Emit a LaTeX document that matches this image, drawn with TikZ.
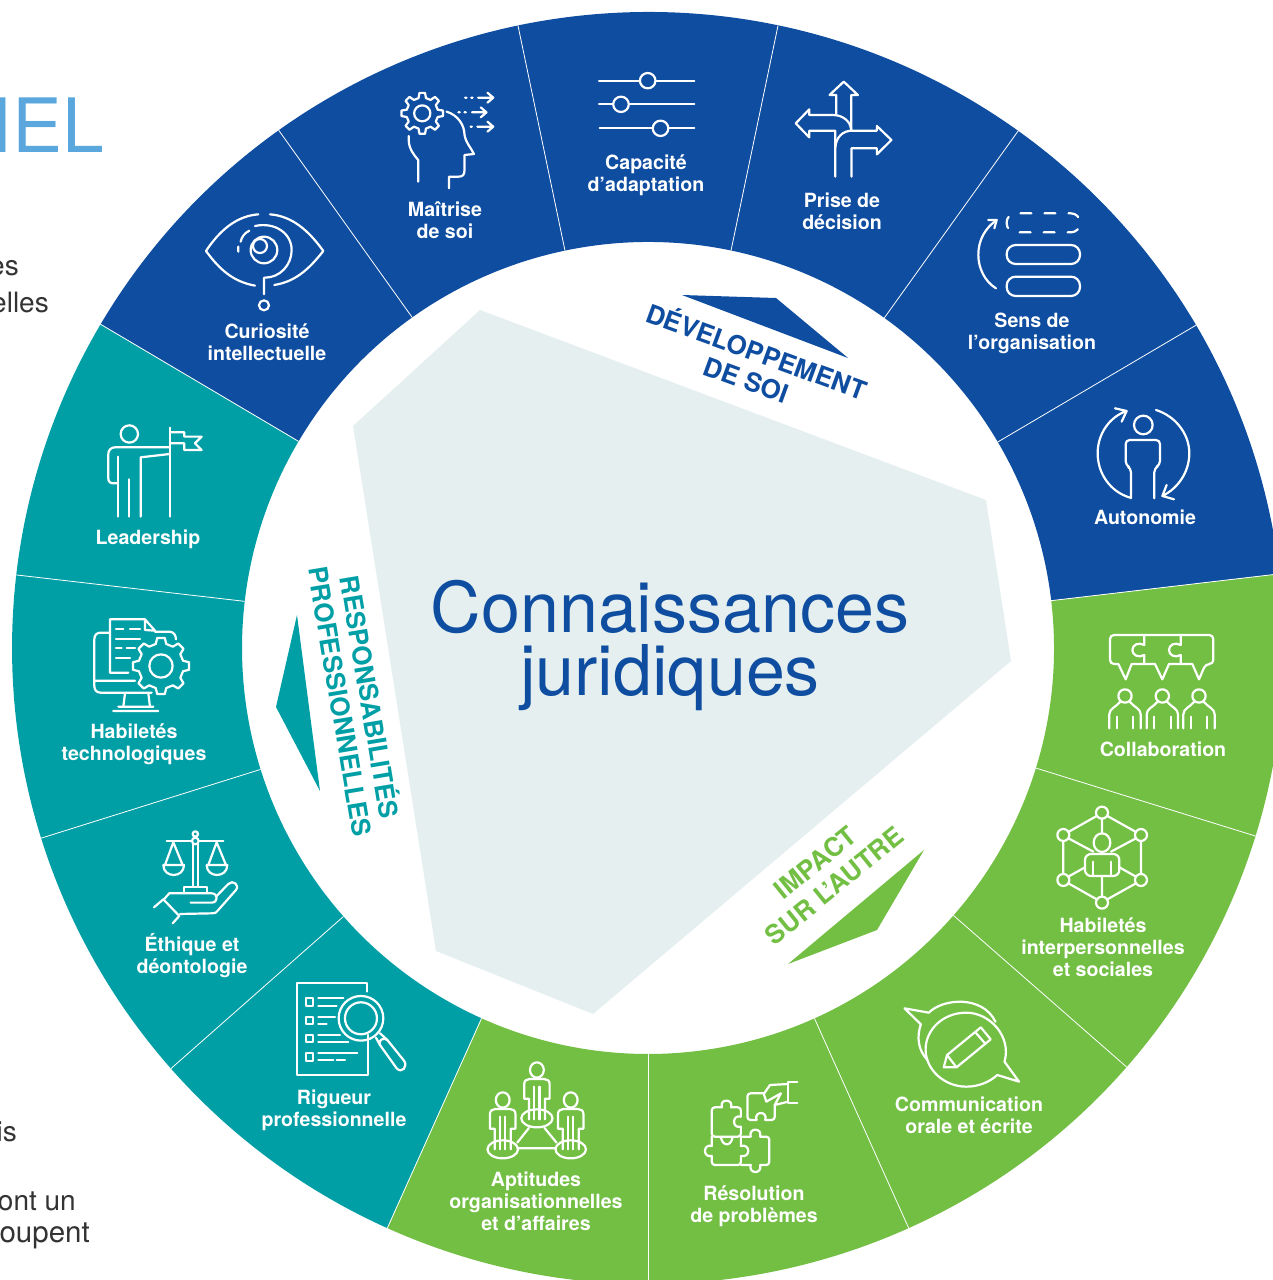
\documentclass[tikz,border=0pt]{standalone}
\usepackage{fontspec}
\setmainfont{TeX Gyre Heros}
\definecolor{cblue}{HTML}{0E4DA0}
\definecolor{cteal}{HTML}{009FA6}
\definecolor{cgreen}{HTML}{72BF44}
\definecolor{cpoly}{HTML}{E5EFEF}
\definecolor{ctitle}{HTML}{5AA7DE}
\definecolor{cgrey}{HTML}{333333}
\tikzset{
 ico/.style={draw=white,line width=2.2pt,line cap=round,line join=round},
 lab/.style={text=white,font=\bfseries\fontsize{19.6}{22}\selectfont,align=center,inner sep=0pt},
 head/.style={font=\bfseries\fontsize{26}{30}\selectfont,align=center,inner sep=0pt},
 side/.style={text=cgrey,font=\fontsize{28}{30}\selectfont,inner sep=0pt,anchor=east},
 zA/.style={shift={(380,60)},x=0.338pt,y=-0.3333pt},
 zB/.style={shift={(950,200)},x=0.3333pt,y=-0.3333pt},
 zC/.style={shift={(1030,620)},x=0.3333pt,y=-0.3333pt},
 zD/.style={shift={(470,990)},x=0.3636pt,y=-0.3333pt},
 zE/.style={shift={(80,610)},x=0.3333pt,y=-0.3333pt},
 zF/.style={shift={(90,200)},x=0.3333pt,y=-0.3333pt},
}
\newcommand\cogwheel[6]{%
 \begin{scope}[shift={(#1,#2)}]
 \pgfmathsetmacro{\st}{360/#5}
 \draw[ico,#6] ({0.7*\st}:#3) \foreach \i [evaluate=\i as \a using \i*\st] in {1,...,#5} {
   -- ({\a-0.30*\st}:#3) -- ({\a-0.17*\st}:#4) -- ({\a+0.17*\st}:#4) -- ({\a+0.30*\st}:#3)
 } -- cycle;
 \end{scope}}
\newcommand\wedgepart[3]{%
 \fill[#3] (#1:406) -- (#1:636) arc[start angle=#1,end angle=#2,radius=636] -- (#2:406) arc[start angle=#2,end angle=#1,radius=406] -- cycle;}
\newcommand\teammate[2]{%
 \begin{scope}[shift={(#1,0)}]
 \draw[ico] (0,#2) circle[radius=20];
 \draw[ico] (-47,#2+97) -- (-47,#2+55) .. controls (-47,#2+38) and (-28,#2+34) .. (-14,#2+17);
 \draw[ico] (47,#2+97) -- (47,#2+55) .. controls (47,#2+38) and (28,#2+34) .. (14,#2+17);
 \draw[ico] (-25,#2+62) -- (-25,#2+97) (25,#2+62) -- (25,#2+97);
 \end{scope}}
\newcommand\standing[2]{%
 \begin{scope}[shift={(#1,0)}]
 \draw[ico] (0,#2) ellipse[x radius=19,y radius=23];
 \draw[ico] (-22,#2+148) -- (-22,#2+86) -- (-35,#2+86) -- (-35,#2+42) .. controls (-35,#2+32) and (-28,#2+27) .. (-20,#2+27) -- (20,#2+27) .. controls (28,#2+27) and (35,#2+32) .. (35,#2+42) -- (35,#2+86) -- (22,#2+86) -- (22,#2+148);
 \draw[ico] (-7,#2+50) -- (-7,#2+148) (7,#2+50) -- (7,#2+148);
 \end{scope}}
\begin{document}
\begin{tikzpicture}[x=1pt,y=-1pt]
\path[use as bounding box] (0,0) rectangle (1273,1280);
\clip (0,0) rectangle (1273,1280);
% side text
\node[font=\fontsize{75}{78}\selectfont,text=ctitle,inner sep=0pt,anchor=east] (ttl) at (104,125) {NEL};
\node[side] (s1) at (19,268) {es};
\node[side] (s2) at (49,302) {elles};
\node[side] (s3) at (17,1132) {is};
\node[side] (s4) at (76,1201) {ont un};
\node[side,font=\fontsize{29.5}{30}\selectfont] (s5) at (90,1236) {oupent};
% ring
\begin{scope}[shift={(648,648)},x=1pt,y=1pt]
\wedgepart{6.7}{149.4}{cblue}
\wedgepart{149.4}{245.8}{cteal}
\wedgepart{245.8}{366.7}{cgreen}
\foreach \a in {6.7,30.5,54.4,78.2,101.8,125.5,149.4,173.4,197.4,221.4,245.8,270,294.2,318.8,342.8}
  \draw[white,line width=0.8pt] (\a:406) -- (\a:636);
\end{scope}
% central polygon
\fill[cpoly] (480,310) -- (986,500) -- (1011,661) -- (593,1014) -- (436,951) -- (353,426) -- cycle;
\node[text=cblue,font=\fontsize{70}{63}\selectfont,align=center,inner sep=0pt] (main) at (670,645) {Connaissances\\juridiques};
% triangles
\fill[cblue] (682,295) -- (776,298) -- (848,358) -- cycle;
\fill[cgreen] (924,850) -- (877,930) -- (788,964) -- cycle;
\fill[cteal] (297,615) -- (276,707) -- (320,791) -- cycle;
\node[head,text=cblue,rotate=-20] (hA) at (752,364) {DÉVELOPPEMENT\\DE SOI};
\node[head,text=cgreen,rotate=39] (hB) at (825,874) {IMPACT\\SUR L’AUTRE};
\node[head,text=cteal,rotate=-80.5] (hC) at (357,699) {RESPONSABILITÉS\\PROFESSIONNELLES};
% labels
\node[lab] (l1) at (1145,517) {Autonomie};
\node[lab] (l2) at (1032,333) {Sens de\\l’organisation};
\node[lab] (l3) at (842,211) {Prise de\\décision};
\node[lab] (l4) at (646,175) {Capacité\\d’adaptation};
\node[lab] (l5) at (445,220) {Maîtrise\\de soi};
\node[lab] (l6) at (267,342) {Curiosité\\intellectuelle};
\node[lab] (l7) at (148,539) {Leadership};
\node[lab] (l8) at (134,744) {Habiletés\\technologiques};
\node[lab] (l9) at (192,956) {Éthique et\\déontologie};
\node[lab] (l10) at (334,1110) {Rigueur\\professionnelle};
\node[lab] (l11) at (536,1201) {Aptitudes\\organisationnelles\\et d’affaires};
\node[lab] (l12) at (754,1206) {Résolution\\de problèmes};
\node[lab] (l13) at (969,1115) {Communication\\orale et écrite};
\node[lab] (l14) at (1103,947) {Habiletés\\interpersonnelles\\et sociales};
\node[lab] (l15) at (1163,749) {Collaboration};
% icons A: Maitrise, Capacite, Prise
\begin{scope}[zA]
\cogwheel{125}{160}{47}{62}{8}{}
\draw[ico] (125,160) circle[radius=24];
\draw[ico] (197,155) .. controls (230,165) and (250,195) .. (250,225) .. controls (252,245) and (270,265) .. (278,282) -- (250,285) -- (250,330) .. controls (250,345) and (245,350) .. (232,350) -- (204,350) -- (204,385);
\draw[ico] (85,228) -- (85,240) .. controls (85,265) and (100,285) .. (113,300) -- (113,365);
\draw[ico] (252,113) -- (256,113) (270,113) -- (274,113) (290,113) -- (335,113) (318,98) -- (335,113) -- (318,128);
\draw[ico] (232,157) -- (236,157) (250,157) -- (254,157) (272,157) -- (315,157) (298,142) -- (315,157) -- (298,172);
\draw[ico] (268,200) -- (272,200) (288,200) -- (335,200) (318,185) -- (335,200) -- (318,215);
% sliders
\draw[ico] (648,62) -- (930,62) (648,133) -- (930,133) (650,205) -- (930,205);
\draw[ico,fill=cblue] (792,62) circle[radius=23];
\draw[ico,fill=cblue] (713,133) circle[radius=23];
\draw[ico,fill=cblue] (830,205) circle[radius=23];
% crossroads
\draw[ico] (1350,165) -- (1350,105) -- (1330,105) -- (1372,65) -- (1414,105) -- (1394,105) -- (1394,210);
\draw[ico] (1394,212) .. controls (1394,185) and (1370,165) .. (1340,165) -- (1270,165) -- (1270,148) -- (1230,190) -- (1270,232) -- (1270,212) -- (1347,212) -- (1347,350);
\draw[ico] (1347,262) .. controls (1350,230) and (1370,212) .. (1397,212) -- (1470,212) -- (1470,198) -- (1513,240) -- (1470,283) -- (1470,265) -- (1395,265) -- (1395,350);
\end{scope}
% icons B
\begin{scope}[zB]
\draw[ico,rounded corners=9pt,dash pattern=on 11pt off 13pt,dash phase=5pt] (170,40) rectangle (390,97);
\draw[ico,rounded corners=9pt] (170,135) rectangle (390,192);
\draw[ico,rounded corners=9pt] (170,230) rectangle (390,288);
\draw[ico] (138,265) .. controls (105,245) and (85,205) .. (85,165) .. controls (85,120) and (105,85) .. (140,60);
\draw[ico] (115,60) -- (140,60) -- (133,85);
\draw[ico] (580,675) circle[radius=28];
\draw[ico,rounded corners=4pt] (543,895) -- (543,805) -- (527,795) -- (527,720) -- (630,720) -- (630,795) -- (613,805) -- (613,895);
\draw[ico] (540,893) .. controls (480,875) and (443,820) .. (443,760) .. controls (443,700) and (480,650) .. (530,633) (495,625) -- (530,633) -- (515,665);
\draw[ico] (618,630) .. controls (675,648) and (718,700) .. (718,760) .. controls (718,815) and (685,865) .. (637,888) (650,855) -- (637,888) -- (672,898);
\end{scope}
% icons C
\begin{scope}[zC]
\draw[ico,rounded corners=4pt] (240,45) -- (550,45) -- (550,132) -- (527,132) [sharp corners] -- (507,178) -- (487,132) -- (417,132) -- (397,178) -- (375,132) -- (305,132) -- (287,178) -- (265,132) [rounded corners=4pt] -- (240,132) -- cycle;
\draw[ico] (343,45) -- (343,75) .. controls (325,65) and (307,75) .. (307,90) .. controls (307,105) and (325,115) .. (343,105) -- (343,132);
\draw[ico] (452,45) -- (452,75) .. controls (434,65) and (417,75) .. (417,90) .. controls (417,105) and (434,115) .. (452,105) -- (452,132);
\teammate{285}{228}\teammate{397}{228}\teammate{507}{228}
\draw[ico] (216,596) -- (216,640) (115,655) -- (190,695) (318,655) -- (243,695) (115,770) -- (165,742) (318,770) -- (268,742) (216,768) -- (216,830);
\draw[ico] (232,588) -- (318,636) (333,663) -- (333,762) (318,790) -- (232,838) (200,838) -- (115,790) (100,762) -- (100,663) (115,636) -- (200,588);
\foreach \p in {(216,578),(100,645),(333,645),(100,780),(333,780),(216,848)}
  \draw[ico] \p circle[radius=18];
\draw[ico] (216,668) ellipse[x radius=25,y radius=28];
\draw[ico,rounded corners=6pt] (165,768) -- (165,702) -- (268,702) -- (268,768) -- cycle;
\draw[ico] (190,725) -- (190,768) (243,725) -- (243,768);
\end{scope}
% icons D
\begin{scope}[zD]
\standing{184}{240}
\standing{90}{330}
\standing{277}{330}
\draw[ico] (184,385) ellipse[x radius=43,y radius=27];
\draw[ico] (90,478) ellipse[x radius=42,y radius=27];
\draw[ico] (277,478) ellipse[x radius=42,y radius=27];
\draw[ico] (162,414) -- (130,458) (205,414) -- (238,458) (132,475) -- (235,475);
% puzzle
\draw[ico,rounded corners=3pt] (693,352) -- (665,352) -- (665,440) -- (745,440) -- (745,410) (745,380) -- (745,352) -- (718,352);
\draw[ico] (693,352) .. controls (685,325) and (725,325) .. (718,352);
\draw[ico] (745,380) .. controls (720,372) and (720,418) .. (745,410);
\draw[ico,rounded corners=3pt] (665,498) -- (665,525) -- (745,525) -- (745,498) (745,468) -- (745,440);
\draw[ico] (665,440) -- (665,468) .. controls (640,460) and (640,505) .. (665,498);
\draw[ico] (690,442) .. controls (695,470) and (718,470) .. (722,442);
\draw[ico] (745,468) .. controls (772,460) and (772,505) .. (745,498);
\draw[ico,rounded corners=3pt] (745,440) -- (772,440) (798,440) -- (823,440) -- (823,525) -- (798,525) (772,525) -- (745,525);
\draw[ico] (772,440) .. controls (765,412) and (805,412) .. (798,440);
\draw[ico] (772,525) .. controls (765,553) and (805,553) .. (798,525);
\draw[ico,rounded corners=3pt] (808,310) -- (763,310) -- (763,390) -- (788,390) (812,390) -- (838,390) -- (838,345);
\draw[ico] (788,390) .. controls (780,362) and (820,362) .. (812,390);
\draw[ico] (900,277) -- (875,277) -- (875,340) -- (900,340);
\draw[ico] (875,282) -- (825,285) -- (808,312) -- (815,335) -- (855,310) -- (838,345) -- (875,335);
% communication
\draw[ico] (1240,103) -- (1195,55) -- (1262,68) .. controls (1300,25) and (1410,15) .. (1445,95);
\draw[ico] (1240,103) .. controls (1228,140) and (1232,180) .. (1258,210);
\draw[ico] (1470,215) .. controls (1490,140) and (1430,68) .. (1365,68) .. controls (1300,68) and (1253,120) .. (1253,178) .. controls (1253,240) and (1305,290) .. (1365,290) .. controls (1400,290) and (1430,275) .. (1450,255) -- (1510,275) -- cycle;
\draw[ico] (1303,232) -- (1312,195) -- (1405,112) -- (1432,148) -- (1338,232) -- cycle (1390,127) -- (1418,162) (1312,195) -- (1338,232);
\end{scope}
% icons E
\begin{scope}[zE]
\draw[ico] (90,68) -- (62,68) .. controls (50,68) and (43,75) .. (43,88) -- (43,228) .. controls (43,240) and (50,248) .. (62,248) -- (215,248);
\draw[ico] (45,212) -- (165,212) (225,65) -- (268,65) .. controls (280,65) and (288,75) .. (288,88);
\draw[ico] (135,250) -- (130,290) (205,250) -- (210,290) (115,290) -- (220,290) (100,303) -- (235,303);
\draw[ico] (145,188) -- (90,188) -- (90,28) -- (195,28) -- (225,62) -- (195,60) -- (195,28);
\draw[ico] (108,58) -- (130,58) (150,58) -- (180,58) (108,88) -- (180,88) (108,115) -- (125,115) (140,115) -- (165,115) (108,143) -- (150,143);
\cogwheel{243}{168}{68}{85}{8}{fill=cteal}
\draw[ico] (243,168) circle[radius=35];
% scale
\draw[ico] (260,693) -- (430,693) (338,703) -- (338,830) (355,703) -- (355,830) (312,845) -- (312,830) -- (380,830) -- (380,845);
\draw[ico,fill=cteal] (346,693) circle[radius=10];
\draw[ico] (346,672) circle[radius=8];
\draw[ico] (280,697) -- (255,765) (280,697) -- (308,765) (250,765) -- (312,765) .. controls (312,805) and (250,805) .. (250,765);
\draw[ico] (410,697) -- (385,765) (410,697) -- (438,765) (380,765) -- (442,765) .. controls (442,805) and (380,805) .. (380,765);
\draw[ico] (250,870) -- (268,850) -- (395,850) .. controls (415,850) and (415,878) .. (395,878) -- (332,878);
\draw[ico] (410,858) -- (445,822) .. controls (458,808) and (480,825) .. (468,840) -- (415,900) .. controls (410,908) and (405,910) .. (398,910) -- (300,912);
\draw[ico] (222,892) -- (250,868) -- (298,918) -- (278,940);
% rigueur
\draw[ico] (860,1145) -- (860,1120) -- (652,1120) -- (652,1395) -- (865,1395) -- (865,1275);
\foreach \y in {1165,1220,1275,1330}
  \draw[ico] (678,\y) rectangle (700,\y+22);
\draw[ico] (715,1165) -- (790,1165) (715,1187) -- (770,1187) (715,1220) -- (765,1220) (715,1242) -- (740,1242) (715,1275) -- (780,1275) (715,1297) -- (805,1297) (715,1330) -- (832,1330) (715,1350) -- (760,1350) (770,1350) -- (795,1350);
\draw[ico] (843,1225) circle[radius=67];
\draw[ico] (843,1225) circle[radius=48];
\draw[ico] (888,1283) -- (900,1305) (900,1270) -- (922,1290);
\draw[ico] (900,1305) -- (950,1375) .. controls (965,1392) and (985,1370) .. (972,1352) -- (922,1290) .. controls (912,1280) and (892,1292) .. (900,1305);
\end{scope}
% icons F
\begin{scope}[zF]
\draw[ico] (505,43) .. controls (440,48) and (390,90) .. (348,153) .. controls (390,210) and (430,245) .. (495,257);
\draw[ico] (540,43) .. controls (605,48) and (655,90) .. (700,153) .. controls (655,210) and (615,245) .. (553,255);
\draw[ico] (495,78) .. controls (555,65) and (605,100) .. (605,150) .. controls (605,195) and (570,233) .. (525,233) -- (522,233) -- (522,283);
\draw[ico] (522,316) circle[radius=15];
\draw[ico] (478,92) .. controls (462,100) and (455,112) .. (452,125) (445,140) -- (445,155);
\draw[ico] (522,150) circle[radius=40];
\draw[ico] (510,138) circle[radius=21];
\draw[ico] (118,702) circle[radius=26];
\draw[ico] (83,770) -- (83,950) (118,838) -- (118,950) (240,683) -- (240,950);
\draw[ico] (240,742) -- (75,742) .. controls (62,742) and (55,752) .. (55,762) -- (55,835) .. controls (55,845) and (60,850) .. (70,850) -- (83,850);
\draw[ico] (240,762) -- (152,772) -- (152,950);
\draw[ico] (240,697) -- (283,697) -- (283,710) -- (335,710) -- (315,730) -- (335,750) -- (283,750) -- (283,730) -- (240,730);
\end{scope}
\end{tikzpicture}
\end{document}
